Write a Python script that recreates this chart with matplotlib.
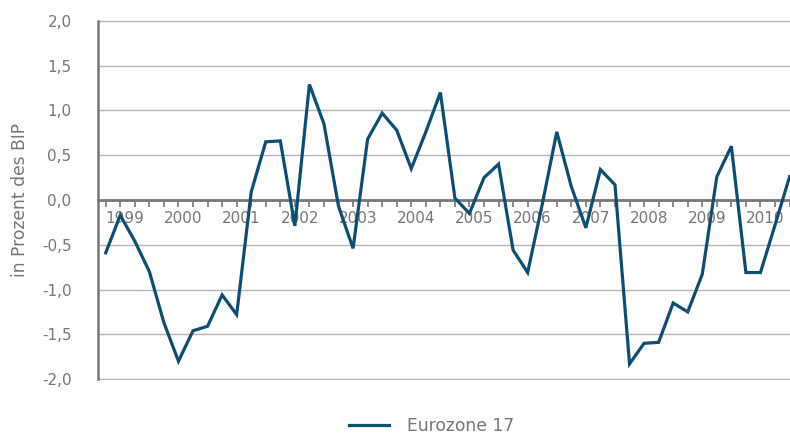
import matplotlib.pyplot as plt
import numpy as np

# quarterly values 1999 Q1 - 2010 Q4, in % of GDP
years = ["1999", "2000", "2001", "2002", "2003", "2004",
         "2005", "2006", "2007", "2008", "2009", "2010"]
eurozone = [-0.59, -0.17, -0.46, -0.80, -1.37, -1.80, -1.46, -1.41,
            -1.06, -1.28, 0.09, 0.65, 0.66, -0.29, 1.29, 0.85,
            -0.07, -0.54, 0.68, 0.97, 0.78, 0.35, 0.76, 1.20,
            0.02, -0.15, 0.25, 0.40, -0.56, -0.81, -0.05, 0.76,
            0.15, -0.31, 0.34, 0.17, -1.83, -1.60, -1.59, -1.15,
            -1.25, -0.83, 0.26, 0.60, -0.81, -0.81, -0.28, 0.26]
yticks = [-2.0, -1.5, -1.0, -0.5, 0.0, 0.5, 1.0, 1.5, 2.0]
ytick_labels = ["-2,0", "-1,5", "-1,0", "-0,5", "0,0", "0,5", "1,0", "1,5", "2,0"]

grey = "#777777"
blue = "#0b4f74"

plt.rcParams["font.family"] = ["DejaVu Sans"]
fig = plt.figure(figsize=(7.9, 4.34), dpi=100)
ax = fig.add_axes([98 / 790, 54 / 434, 692 / 790, 360 / 434])

x = np.arange(len(eurozone))
ax.plot(x, eurozone, color=blue, lw=2.3, label="Eurozone 17", zorder=3,
        solid_joinstyle="miter")

ax.set_xlim(-0.53, len(eurozone) - 0.97)
ax.set_ylim(-2.01, 2.01)
ax.set_yticks(yticks)
ax.set_yticklabels(ytick_labels)
ax.tick_params(axis="y", length=0, pad=19, labelsize=11, labelcolor=grey)
ax.grid(axis="y", color="#b4b4b4", lw=1)
ax.set_axisbelow(True)

# year labels centred within each year, quarter ticks on the zero line
ax.set_xticks(np.arange(len(years)) * 4 + 1.33)
ax.set_xticklabels(years)
ax.set_xticks(x, minor=True)
ax.tick_params(axis="x", which="major", length=0, pad=8, labelsize=11, labelcolor=grey)
ax.tick_params(axis="x", which="minor", length=5, width=1.2, color=grey, direction="out")

ax.spines["bottom"].set_position(("data", 0))
ax.spines["bottom"].set_color(grey)
ax.spines["bottom"].set_linewidth(2)
ax.spines["bottom"].set_zorder(2)
ax.spines["left"].set_color(grey)
ax.spines["left"].set_linewidth(1.8)
ax.spines["left"].set_bounds(-2.0, 2.0)
ax.spines["top"].set_visible(False)
ax.spines["right"].set_visible(False)

ax.set_ylabel("in Prozent des BIP", fontsize=12.3, color=grey, labelpad=9)

fig.legend(loc="center", bbox_to_anchor=(432 / 790, 8 / 434), frameon=False,
           fontsize=12.3, labelcolor=grey, handlelength=2.3, handletextpad=1.1)

plt.savefig("out.png", dpi=100)
